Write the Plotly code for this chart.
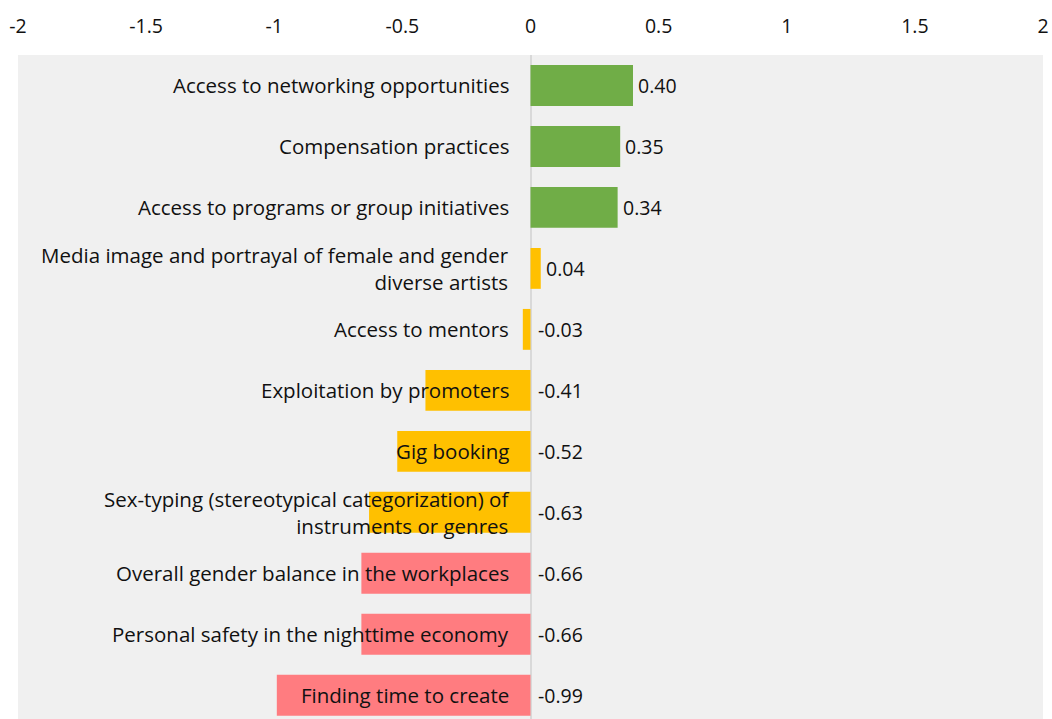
import plotly.graph_objects as go

categories = [
    "Access to networking opportunities",
    "Compensation practices",
    "Access to programs or group initiatives",
    "Media image and portrayal of female and gender<br>diverse artists",
    "Access to mentors",
    "Exploitation by promoters",
    "Gig booking",
    "Sex-typing (stereotypical categorization) of<br>instruments or genres",
    "Overall gender balance in the workplaces",
    "Personal safety in the nighttime economy",
    "Finding time to create",
]
scores = [0.40, 0.35, 0.34, 0.04, -0.03, -0.41, -0.52, -0.63, -0.66, -0.66, -0.99]
bar_colors = ["#70AD47", "#70AD47", "#70AD47", "#FFC000", "#FFC000", "#FFC000",
              "#FFC000", "#FFC000", "#FF7C80", "#FF7C80", "#FF7C80"]
tick_vals = [-2, -1.5, -1, -0.5, 0, 0.5, 1, 1.5, 2]
tick_text = ["-2", "-1.5", "-1", "-0.5", "0", "0.5", "1", "1.5", "2"]

FONT = "Open Sans"

fig = go.Figure(go.Bar(
    x=scores, y=categories, orientation="h",
    marker=dict(color=bar_colors, line=dict(width=0)),
    hoverinfo="x+y",
))

# category names sit just left of the zero line, on top of the bars
for cat in categories:
    fig.add_annotation(x=0, y=cat, xref="x", yref="y", text=cat, showarrow=False,
                       xanchor="right", align="right", xshift=-20,
                       font=dict(family=FONT, size=20.5, color="#111111"))

# value labels: after bar end for positive, after zero line for negative
for cat, v in zip(categories, scores):
    fig.add_annotation(x=max(v, 0), y=cat, xref="x", yref="y", text=f"{v:.2f}",
                       showarrow=False, xanchor="left", xshift=3 if v > 0 else 5,
                       font=dict(family=FONT, size=19.5, color="#111111"))

fig.update_layout(
    width=1052, height=719,
    margin=dict(l=18, r=9, t=55, b=0),
    paper_bgcolor="white", plot_bgcolor="#F0F0F0",
    bargap=0.33, showlegend=False,
    font=dict(family=FONT, size=19.5, color="#111111"),
)
fig.update_xaxes(side="top", range=[-2, 2], tickvals=tick_vals, ticktext=tick_text,
                 showgrid=False, zeroline=True, zerolinecolor="#D9D9D9", zerolinewidth=2,
                 ticks="", ticklabelstandoff=17, tickfont=dict(size=19.5), automargin=False)
fig.update_yaxes(showticklabels=False, showgrid=False, zeroline=False, automargin=False,
                 range=[10.39, -0.5], categoryorder="array", categoryarray=categories)

# drop the default body margin so the figure fills the window exactly
fig.write_html("out.html", config={"displayModeBar": False},
               post_script="document.body.style.margin='0';document.body.style.overflow='hidden';")
